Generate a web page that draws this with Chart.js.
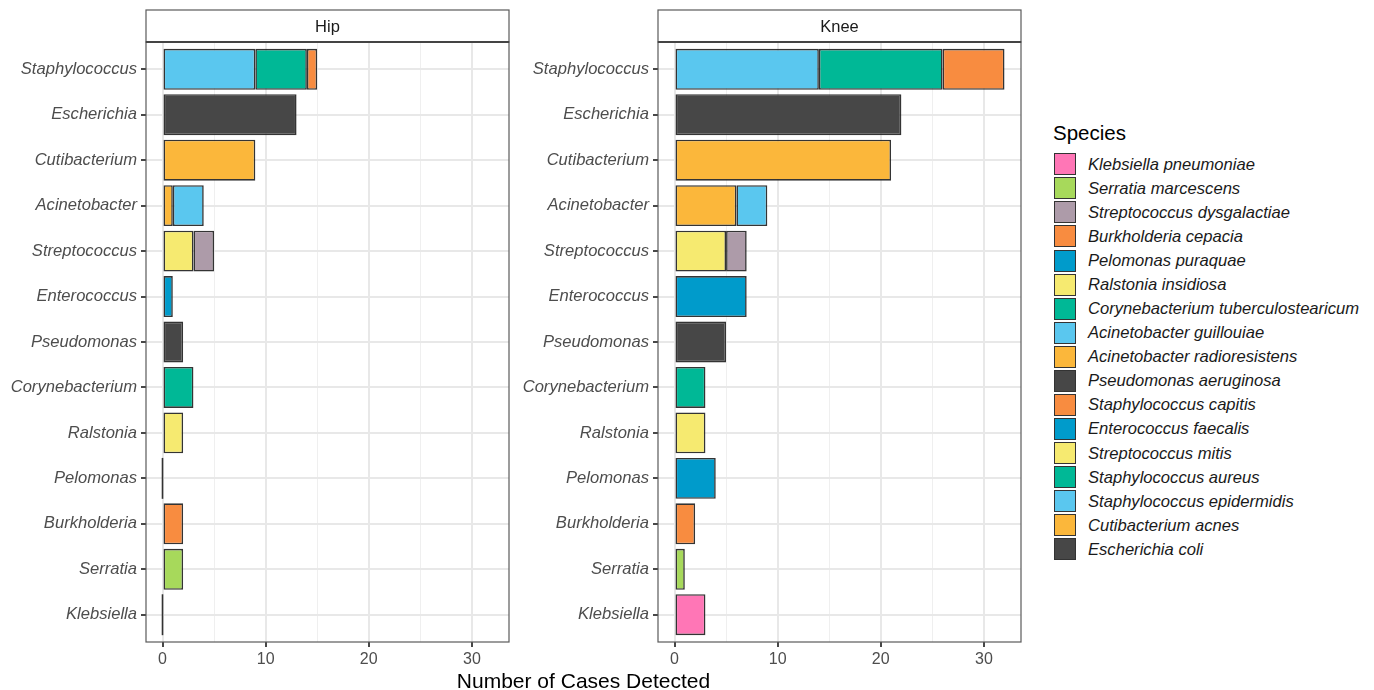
<!DOCTYPE html>
<html>
<head>
<meta charset="utf-8">
<title>Number of Cases Detected by Genus and Species</title>
<script src="https://cdn.jsdelivr.net/npm/chart.js@4.4.1/dist/chart.umd.min.js"></script>
<style>
  html, body { margin: 0; padding: 0; background: #ffffff; }
  body {
    width: 1374px; height: 690px; position: relative; overflow: hidden;
    font-family: "Liberation Sans", Arial, sans-serif;
  }
  .panel { position: absolute; top: 0; }
  #xtitle {
    position: absolute; left: 146px; width: 875px; top: 668px;
    text-align: center; font-size: 21px; line-height: 26px; color: #000;
  }
  #legend { position: absolute; left: 0; top: 0; }
  .lg-title {
    position: absolute; left: 1053px; top: 120px; font-size: 20.5px;
    line-height: 26px; color: #000; white-space: nowrap;
  }
  .lg-key {
    position: absolute; left: 1053.5px; width: 20.5px; height: 20px;
    border: 1.5px solid #333;
  }
  .lg-text {
    position: absolute; left: 1088px; font-size: 16.6px; line-height: 22px;
    font-style: italic; color: #1a1a1a; white-space: nowrap;
  }
</style>
</head>
<body>
<canvas id="hip" class="panel" width="520" height="690" style="left:0px"></canvas>
<canvas id="knee" class="panel" width="520" height="690" style="left:512px"></canvas>
<div id="xtitle">Number of Cases Detected</div>
<div id="legend"></div>

<script>
// Genera, top to bottom
const categories = [
  'Staphylococcus', 'Escherichia', 'Cutibacterium', 'Acinetobacter',
  'Streptococcus', 'Enterococcus', 'Pseudomonas', 'Corynebacterium',
  'Ralstonia', 'Pelomonas', 'Burkholderia', 'Serratia', 'Klebsiella'
];

// Species, in legend order
const species = [
  'Klebsiella pneumoniae',
  'Serratia marcescens',
  'Streptococcus dysgalactiae',
  'Burkholderia cepacia',
  'Pelomonas puraquae',
  'Ralstonia insidiosa',
  'Corynebacterium tuberculostearicum',
  'Acinetobacter guillouiae',
  'Acinetobacter radioresistens',
  'Pseudomonas aeruginosa',
  'Staphylococcus capitis',
  'Enterococcus faecalis',
  'Streptococcus mitis',
  'Staphylococcus aureus',
  'Staphylococcus epidermidis',
  'Cutibacterium acnes',
  'Escherichia coli'
];

const speciesColors = [
  '#ff76b6', '#a7d95b', '#ad9ba9', '#f88c40', '#009bcb', '#f6ea70',
  '#00b896', '#5ac7ef', '#fbb73b', '#474747', '#f88c40', '#009bcb',
  '#f6ea70', '#00b896', '#5ac7ef', '#fbb73b', '#474747'
];

// Cases per species (same order as species)
const hipCounts  = [0, 2, 2, 2, 0, 2, 3, 3, 1, 2, 1, 1, 3, 5, 9, 9, 13];
const kneeCounts = [3, 1, 2, 2, 4, 3, 3, 3, 6, 5, 6, 7, 5, 12, 14, 21, 22];

const xTickLabels = [0, 10, 20, 30];
const xMinorTicks = [5, 15, 25];

const FONT = '"Liberation Sans", Arial, sans-serif';

// Shared x range: largest stacked total, padded 5% on both sides
function genusTotals(counts) {
  const t = categories.map(() => 0);
  species.forEach((s, i) => { t[categories.indexOf(s.split(' ')[0])] += counts[i]; });
  return t;
}
const maxTotal = Math.max(...genusTotals(hipCounts), ...genusTotals(kneeCounts));
const xPad = maxTotal * 0.05;

// Panel frame, facet strip and zero-count outlines
const panelDecor = {
  id: 'panelDecor',
  afterDatasetsDraw(chart) {
    const ctx = chart.ctx;
    chart.data.datasets.forEach((ds, di) => {
      const meta = chart.getDatasetMeta(di);
      meta.data.forEach((el, i) => {
        const pt = ds.data[i];
        if (pt && pt.x === 0) {
          ctx.save();
          ctx.strokeStyle = '#333333';
          ctx.lineWidth = 1.6;
          ctx.beginPath();
          ctx.moveTo(el.x, el.y - el.height / 2);
          ctx.lineTo(el.x, el.y + el.height / 2);
          ctx.stroke();
          ctx.restore();
        }
      });
    });
  },
  afterDraw(chart, args, opts) {
    const ctx = chart.ctx;
    const a = chart.chartArea;
    ctx.save();
    ctx.strokeStyle = '#5a5a5a';
    ctx.lineWidth = 1.2;
    ctx.strokeRect(a.left, a.top, a.right - a.left, a.bottom - a.top);
    // strip
    const sTop = 10;
    ctx.fillStyle = '#ffffff';
    ctx.fillRect(a.left, sTop, a.right - a.left, a.top - sTop);
    ctx.strokeRect(a.left, sTop, a.right - a.left, a.top - sTop);
    ctx.lineWidth = 2;
    ctx.strokeStyle = '#444444';
    ctx.beginPath();
    ctx.moveTo(a.left, a.top);
    ctx.lineTo(a.right, a.top);
    ctx.stroke();
    ctx.fillStyle = '#1a1a1a';
    ctx.font = '16.5px ' + FONT;
    ctx.textAlign = 'center';
    ctx.textBaseline = 'middle';
    ctx.fillText(opts.label, (a.left + a.right) / 2, (sTop + a.top) / 2 + 1);
    ctx.restore();
  }
};

function buildDatasets(counts) {
  // stacked from the last species outward, so the first legend entry sits at the bar end
  const order = species.map((_, i) => i).reverse();
  return order.map(i => ({
    label: species[i],
    data: [{ x: counts[i], y: categories.indexOf(species[i].split(' ')[0]) }],
    backgroundColor: speciesColors[i],
    borderColor: 'rgba(30,30,30,0.9)',
    borderWidth: 1.6,
    borderSkipped: false,
    categoryPercentage: 0.9,
    barPercentage: 1.0
  }));
}

function makePanel(id, label, counts) {
  return new Chart(document.getElementById(id), {
    type: 'bar',
    data: { datasets: buildDatasets(counts) },
    plugins: [panelDecor],
    options: {
      indexAxis: 'y',
      responsive: false,
      animation: false,
      devicePixelRatio: 1,
      layout: { padding: { top: 42, right: 11, left: 0, bottom: 0 } },
      plugins: {
        legend: { display: false },
        tooltip: { enabled: false },
        panelDecor: { label: label }
      },
      scales: {
        x: {
          type: 'linear',
          stacked: true,
          min: -xPad,
          max: maxTotal + xPad,
          afterBuildTicks(scale) {
            scale.ticks = [...xTickLabels, ...xMinorTicks]
              .sort((p, q) => p - q).map(v => ({ value: v }));
          },
          afterFit(scale) { scale.height = 48; },
          border: { display: false },
          grid: {
            color: ctx => xTickLabels.includes(ctx.tick.value) ? '#e8e8e8' : '#efefef',
            lineWidth: ctx => xTickLabels.includes(ctx.tick.value) ? 2 : 1,
            drawTicks: true,
            tickLength: 5,
            tickColor: ctx => xTickLabels.includes(ctx.tick.value) ? '#333333' : 'rgba(0,0,0,0)',
            tickWidth: 1.8
          },
          ticks: {
            autoSkip: false,
            maxRotation: 0,
            padding: 3,
            color: '#4d4d4d',
            font: { family: FONT, size: 16 },
            callback: v => xTickLabels.includes(v) ? String(v) : ''
          }
        },
        y: {
          type: 'linear',
          stacked: true,
          reverse: true,
          offset: false,
          min: -0.6,
          max: categories.length - 1 + 0.6,
          afterBuildTicks(scale) {
            scale.ticks = categories.map((_, i) => ({ value: i }));
          },
          afterFit(scale) { scale.width = 146; },
          border: { display: false },
          grid: {
            offset: false,
            color: '#e8e8e8',
            lineWidth: 2,
            drawTicks: true,
            tickLength: 5,
            tickColor: '#333333',
            tickWidth: 1.8
          },
          ticks: {
            autoSkip: false,
            padding: 4,
            color: '#4d4d4d',
            font: { family: FONT, size: 16.6, style: 'italic' },
            callback: v => categories[v]
          }
        }
      }
    }
  });
}

makePanel('hip', 'Hip', hipCounts);
makePanel('knee', 'Knee', kneeCounts);

// Legend
const legend = document.getElementById('legend');
const title = document.createElement('div');
title.className = 'lg-title';
title.textContent = 'Species';
legend.appendChild(title);
species.forEach((s, i) => {
  const top = 153.3 + i * 24.06;
  const key = document.createElement('div');
  key.className = 'lg-key';
  key.style.top = top + 'px';
  key.style.background = speciesColors[i];
  legend.appendChild(key);
  const txt = document.createElement('div');
  txt.className = 'lg-text';
  txt.style.top = (top + 0.5) + 'px';
  txt.textContent = s;
  legend.appendChild(txt);
});
</script>
</body>
</html>
